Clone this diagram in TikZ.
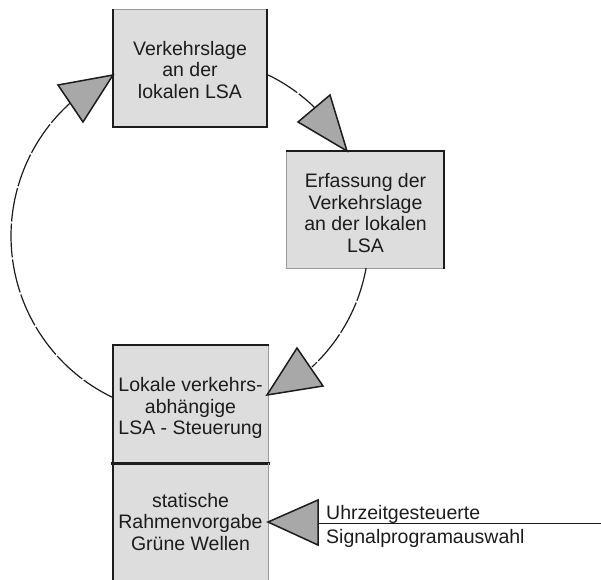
\documentclass[tikz,border=0pt]{standalone}
\usepackage{fontspec}
\setmainfont{Liberation Sans}
\usetikzlibrary{calc}
\definecolor{boxfill}{HTML}{DDDDDD}
\definecolor{trifill}{HTML}{A8A8A8}
\definecolor{ink}{HTML}{1C1C1C}
\definecolor{rim}{HTML}{9A9A9A}
% taller first line pushes a centred text block down a little
\newcommand{\lowerby}[1]{\rule{0pt}{\dimexpr 14.2pt+2\dimexpr #1\relax\relax}}
\begin{document}
\begin{tikzpicture}[x=1pt,y=-1pt,
  box/.style={rectangle, fill=boxfill, inner sep=0pt, align=center, text=ink,
    font=\fontsize{19.5}{21.5}\selectfont},
  darkedge/.style={draw=ink, line width=2pt, line cap=rect},
  lightedge/.style={draw=rim, line width=0.9pt},
  tri/.style={fill=trifill, draw=ink, line width=1.5pt, line join=miter},
  loop/.style={draw=ink, line width=1.2pt, dash pattern=on 34pt off 2pt},
  lbl/.style={text=ink, inner sep=0pt, anchor=base west,
    font=\fontsize{19.5}{21.5}\selectfont}]
\useasboundingbox (0,0) rectangle (601,579);

% boxes
\node[box, minimum width=154pt, minimum height=117pt] (b1) at (190,68.5)
  {\lowerby{1pt}Verkehrslage\\an der\\lokalen LSA};
\node[box, minimum width=157pt, minimum height=117pt] (b2) at (365.5,209.5)
  {\lowerby{3.5pt}Erfassung der\\Verkehrslage\\an der lokalen\\LSA};
\node[box, minimum width=155pt, minimum height=118pt] (b3) at (190.5,404)
  {\lowerby{4pt}Lokale verkehrs-\\abhängige\\LSA - Steuerung};
\node[box, minimum width=155pt, minimum height=118pt] (b4) at (190.5,522)
  {statische\\Rahmenvorgabe\\Grüne Wellen};

% box rims: dark and light sides
\draw[lightedge] (b1.north west) -- (b1.north east);
\draw[darkedge] (b1.north west) -- (b1.south west) -- (b1.south east) -- (b1.north east);
\draw[lightedge] (b2.north west) -- (b2.south west) -- (b2.south east);
\draw[darkedge] (b2.south east) -- (b2.north east) -- (b2.north west);
\draw[lightedge] (b3.north east) -- (b3.south east);
\draw[darkedge, line width=1.6pt] (b3.north east) -- (b3.north west) -- (b3.south west);
\draw[darkedge, line width=3pt] (b3.south west) -- (b3.south east);
\draw[lightedge] (b4.north east) -- (b4.south east);
\draw[darkedge] (b4.north west) -- (b4.south west);

% the loop
\coordinate (c) at (190,236);
\draw[loop] (c) ++(-64.1:179) arc[start angle=-64.1, end angle=-45.8, radius=179];
\draw[loop] (c) ++(10.3:179) arc[start angle=10.3, end angle=47, radius=179];
\draw[loop] (c) ++(115.5:179) arc[start angle=115.5, end angle=228, radius=179];

% arrowheads
\coordinate (t1) at (113,75);
\coordinate (t2) at (347,151);
\coordinate (t3) at (267,395);
\coordinate (t4) at (268,522);
\draw[tri] (t1) -- (58,85) -- (83,122) -- cycle;
\draw[tri] (t2) -- (298,122) -- (330,95) -- cycle;
\draw[tri] (t3) -- (297,348) -- (323,386) -- cycle;
\draw[tri] (t4) -- (318,500) -- (318,545) -- cycle;

% external input
\coordinate (t4b) at (318,523);
\coordinate (inend) at (601,523);
\draw[draw=ink, line width=1pt] (t4b) -- (inend);
\node[lbl] (u1) at (326,519) {Uhrzeitgesteuerte};
\node[lbl] (u2) at (326,543) {Signalprogramauswahl};
\end{tikzpicture}
\end{document}
